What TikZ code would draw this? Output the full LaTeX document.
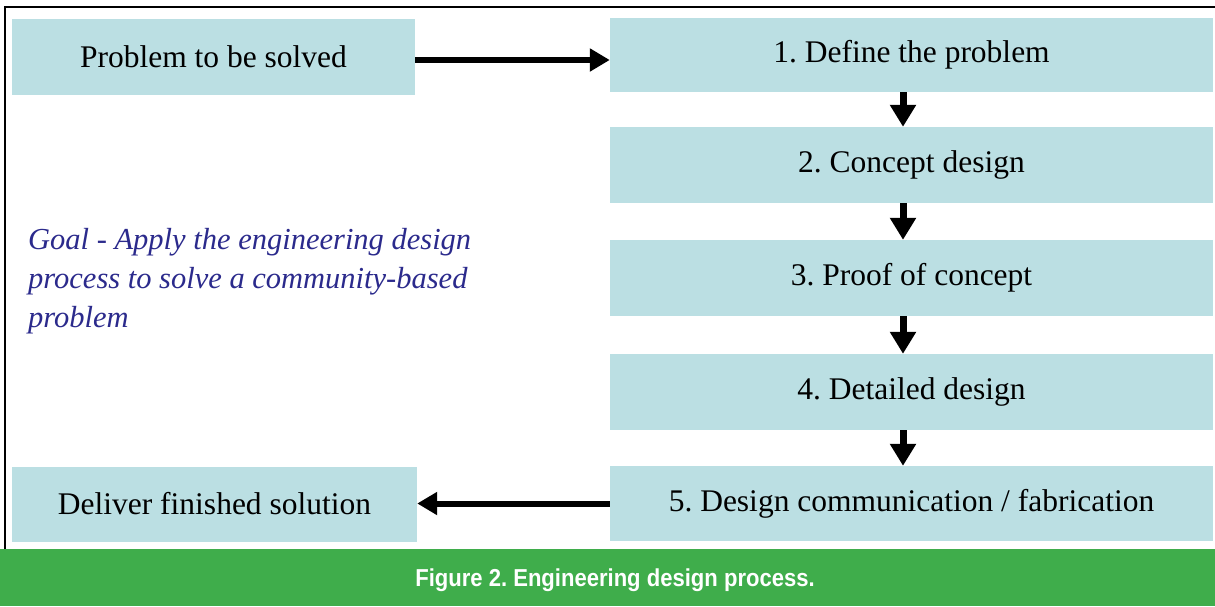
\documentclass[tikz,border=0pt]{standalone}
\usepackage{fontspec}
\setmainfont{Liberation Serif}
\newfontfamily\capfont[FakeStretch=0.9]{Liberation Sans}
\usetikzlibrary{arrows.meta}
\definecolor{boxblue}{HTML}{BBDFE3}
\definecolor{goalblue}{HTML}{2B2A8C}
\definecolor{capgreen}{HTML}{3FAD4B}
\frenchspacing
\tikzset{
  stepbox/.style={fill=boxblue, draw=none, inner sep=0pt, font=\fontsize{31.5}{36}\selectfont, anchor=center},
  bigarrow/.style={line width=6pt, -{Triangle[length=20pt,width=22pt]}},
  downarrow/.style={line width=7pt, -{Triangle[length=22pt,width=25pt]}},
}
\begin{document}
\begin{tikzpicture}[x=1pt,y=-1pt]
\useasboundingbox (0,0) rectangle (1215,606);
\fill[white] (0,0) rectangle (1215,606);
% frame
\draw[line width=1.5pt] (5,549) -- (5,7) -- (1215,7);
% left boxes
\node[stepbox, minimum width=403pt, minimum height=76pt] (prob) at (213.5,57) {Problem to be solved};
\node[stepbox, minimum width=405pt, minimum height=75pt] (deliver) at (214.5,504) {Deliver finished solution};
% right column
\node[stepbox, minimum width=603pt, minimum height=74pt] (s1) at (911.5,55) {1. Define the problem};
\node[stepbox, minimum width=603pt, minimum height=76pt] (s2) at (911.5,165) {2. Concept design};
\node[stepbox, minimum width=603pt, minimum height=76pt] (s3) at (911.5,278) {3. Proof of concept};
\node[stepbox, minimum width=603pt, minimum height=76pt] (s4) at (911.5,392) {4. Detailed design};
\node[stepbox, minimum width=603pt, minimum height=75pt] (s5) at (911.5,503.5) {5. Design communication / fabrication};
% arrows
\draw[bigarrow] ([yshift=-3pt]prob.east) -- ([yshift=-3pt]prob.east -| s1.west);
\draw[bigarrow] (s5.west) -- (s5.west -| deliver.east);
\draw[downarrow] ([xshift=-8.5pt]s1.south) -- ([xshift=-8.5pt]s2.north);
\draw[downarrow] ([xshift=-8.5pt]s2.south) -- ([xshift=-8.5pt]s3.north);
\draw[downarrow] ([xshift=-8.5pt]s3.south) -- ([xshift=-8.5pt]s4.north);
\draw[downarrow] ([xshift=-8.5pt]s4.south) -- ([xshift=-8.5pt]s5.north);
% goal text
\node[anchor=north west, align=left, inner sep=0pt, text=goalblue,
      font=\itshape\fontsize{30.5}{39}\selectfont] (goal) at (28,228)
  {Goal - Apply the engineering design\\process to solve a community-based\\problem};
% caption bar
\fill[capgreen] (0,549) rectangle (1215,606);
\node[text=white, font=\capfont\bfseries\fontsize{24.5}{28}\selectfont, inner sep=0pt] (cap) at (615,580) {Figure 2. Engineering design process.};
\end{tikzpicture}
\end{document}
